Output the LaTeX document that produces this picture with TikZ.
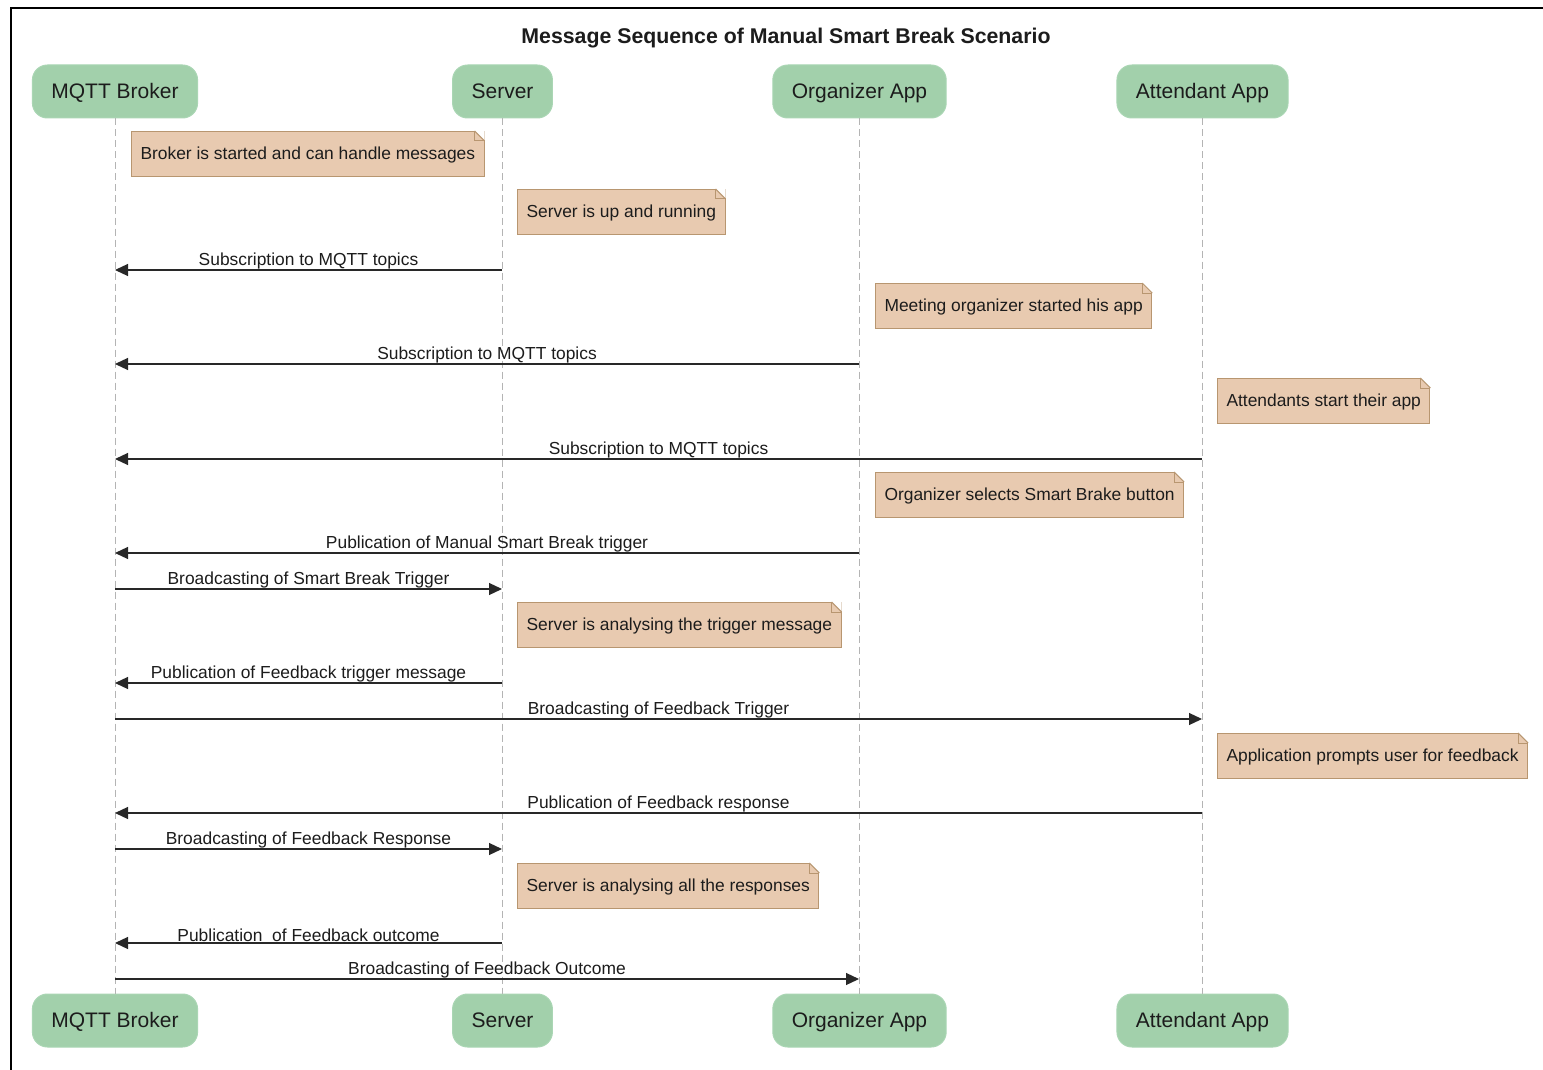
\documentclass[tikz,border=0pt]{standalone}
\usepackage{fontspec}
\setmainfont{Liberation Sans}
\usetikzlibrary{arrows.meta}
\definecolor{partfill}{RGB}{162,208,171}
\definecolor{partdraw}{RGB}{170,214,180}
\definecolor{notefill}{RGB}{232,202,176}
\definecolor{notedraw}{RGB}{184,150,112}
\definecolor{txt}{RGB}{28,28,28}
\definecolor{lifec}{RGB}{180,180,180}
\definecolor{msgc}{RGB}{40,40,40}
\newcommand\dogear[1]{%
  \fill[white] ([xshift=-10pt]#1.north east) -- (#1.north east) -- ([yshift=-10pt]#1.north east) -- cycle;
  \draw[notedraw, line width=1pt] ([xshift=-10pt]#1.north east) -- ([yshift=-10pt]#1.north east);
  \draw[notedraw, line width=1pt] ([xshift=-10pt]#1.north east) -- ([xshift=-10pt,yshift=-10pt]#1.north east) -- ([yshift=-10pt]#1.north east);
}
\begin{document}
\begin{tikzpicture}[x=1pt,y=-1pt,
  part/.style={rectangle, rounded corners=15pt, fill=partfill, draw=partdraw, line width=1pt, minimum height=53pt, inner xsep=19pt, text height=17pt, text depth=3pt, font=\fontsize{21}{25}\selectfont, text=txt},
  note/.style={rectangle, fill=notefill, draw=notedraw, line width=1pt, minimum height=45pt, inner xsep=9pt, text height=13pt, text depth=2pt, anchor=north west, font=\fontsize{17.4}{20}\selectfont, text=txt},
  msg/.style={draw=msgc, line width=1.2pt, -{Triangle[length=13pt,width=12pt]}},
  lbl/.style={above, inner sep=0.5pt, font=\fontsize{17.4}{20}\selectfont, text=txt},
  life/.style={draw=lifec, dash pattern=on 7pt off 4pt, line width=1pt}]
\useasboundingbox (0,0) rectangle (1543,1070);
\fill[white] (0,0) rectangle (1543,1070);
% frame
\draw[line width=2.5pt, black] (11,1070) -- (11,8) -- (1543,8);
% title
\node[font=\bfseries\fontsize{21.3}{25}\selectfont, text=txt] (title) at (786,38) {Message Sequence of Manual Smart Break Scenario};
% participants top
\node[part] (B) at (115,91.5) {MQTT Broker};
\node[part] (S) at (502.5,91.5) {Server};
\node[part] (O) at (859.5,91.5) {Organizer App};
\node[part] (A) at (1202.5,91.5) {Attendant App};
% participants bottom
\node[part] (Bb) at (115,1020.5) {MQTT Broker};
\node[part] (Sb) at (502.5,1020.5) {Server};
\node[part] (Ob) at (859.5,1020.5) {Organizer App};
\node[part] (Ab) at (1202.5,1020.5) {Attendant App};
% lifelines
\draw[life] (B.south) -- (Bb.north);
\draw[life] (S.south) -- (Sb.north);
\draw[life] (O.south) -- (Ob.north);
\draw[life] (A.south) -- (Ab.north);
% notes
\node[note] (n1) at (131,131) {Broker is started and can handle messages}; \dogear{n1}
\node[note] (n2) at (517,189) {Server is up and running}; \dogear{n2}
\node[note] (n3) at (875,283) {Meeting organizer started his app}; \dogear{n3}
\node[note] (n4) at (1217,378) {Attendants start their app}; \dogear{n4}
\node[note] (n5) at (875,472) {Organizer selects Smart Brake button}; \dogear{n5}
\node[note] (n6) at (517,602) {Server is analysing the trigger message}; \dogear{n6}
\node[note] (n7) at (1217,733) {Application prompts user for feedback}; \dogear{n7}
\node[note] (n8) at (517,863) {Server is analysing all the responses}; \dogear{n8}
% message anchor points
\foreach \n/\y in {1/270,2/364,3/459,4/553,5/589,6/683,7/719,8/813,9/849,10/943,11/979}{
  \coordinate (B\n) at (115,\y);
  \coordinate (S\n) at (502,\y);
  \coordinate (O\n) at (859,\y);
  \coordinate (A\n) at (1202,\y);
}
% messages
\draw[msg] (S1) -- node[lbl] (l1) {Subscription to MQTT topics} (B1);
\draw[msg] (O2) -- node[lbl] (l2) {Subscription to MQTT topics} (B2);
\draw[msg] (A3) -- node[lbl] (l3) {Subscription to MQTT topics} (B3);
\draw[msg] (O4) -- node[lbl] (l4) {Publication of Manual Smart Break trigger} (B4);
\draw[msg] (B5) -- node[lbl] (l5) {Broadcasting of Smart Break Trigger} (S5);
\draw[msg] (S6) -- node[lbl] (l6) {Publication of Feedback trigger message} (B6);
\draw[msg] (B7) -- node[lbl] (l7) {Broadcasting of Feedback Trigger} (A7);
\draw[msg] (A8) -- node[lbl] (l8) {Publication of Feedback response} (B8);
\draw[msg] (B9) -- node[lbl] (l9) {Broadcasting of Feedback Response} (S9);
\draw[msg] (S10) -- node[lbl] (l10) {Publication\ \ of Feedback outcome} (B10);
\draw[msg] (B11) -- node[lbl] (l11) {Broadcasting of Feedback Outcome} (O11);
\end{tikzpicture}
\end{document}
